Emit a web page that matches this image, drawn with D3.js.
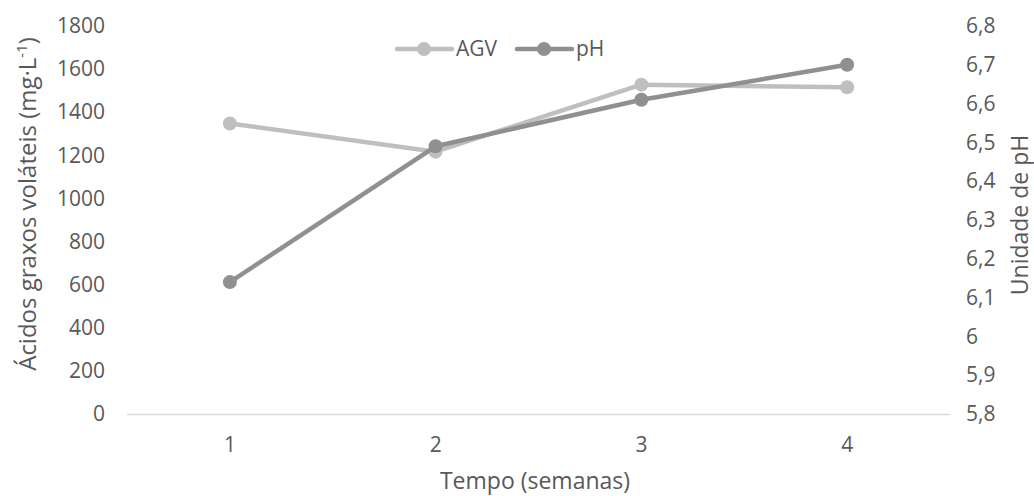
<!DOCTYPE html>
<html>
<head>
<meta charset="utf-8">
<script src="https://cdn.jsdelivr.net/npm/d3@7"></script>
<style>
  html, body { margin: 0; padding: 0; background: #fff; }
  svg { display: block; font-family: "Open Sans", sans-serif; }
  svg text { font-family: "Open Sans", sans-serif; }
</style>
</head>
<body>
<svg id="chart" width="1034" height="496"></svg>
<script>
// Semanas de monitoramento
const weeks = ["1", "2", "3", "4"];
// Ácidos graxos voláteis (mg/L)
const agvValues = [1348, 1217, 1528, 1516];
// pH
const phValues = [6.14, 6.49, 6.61, 6.70];
// Marcas dos eixos
const leftTicks = [0, 200, 400, 600, 800, 1000, 1200, 1400, 1600, 1800];
const rightTicks = [5.8, 5.9, 6.0, 6.1, 6.2, 6.3, 6.4, 6.5, 6.6, 6.7, 6.8];

const svg = d3.select("#chart");
const textColor = "#595959";
const agvColor = "#bfbfbf";
const phColor = "#909090";
const tickSize = "21px";
const titleSize = "23px";

const plot = { left: 127, right: 950, top: 26, bottom: 414 };

const x = d3.scaleBand().domain(weeks).range([plot.left, plot.right]);
const yL = d3.scaleLinear().domain([0, 1800]).range([plot.bottom, plot.top]);
const yR = d3.scaleLinear().domain([5.8, 6.8]).range([plot.bottom, plot.top]);
const cx = d => x(d) + x.bandwidth() / 2;

function styleAxis(g) {
  g.attr("font-family", null).attr("font-size", null);
  g.select(".domain").remove();
  g.selectAll("text").attr("fill", textColor).style("font-size", tickSize);
}

// Eixo esquerdo
svg.append("g")
  .attr("transform", "translate(105,0)")
  .call(d3.axisLeft(yL).tickValues(leftTicks).tickSize(0).tickPadding(0).tickFormat(d3.format("d")))
  .call(styleAxis);

// Eixo direito
const fmtPh = d => (Math.round(d * 10) / 10).toString().replace(".", ",");
svg.append("g")
  .attr("transform", "translate(966,0)")
  .call(d3.axisRight(yR).tickValues(rightTicks).tickSize(0).tickPadding(0).tickFormat(fmtPh))
  .call(styleAxis);

// Eixo de categorias
svg.append("line")
  .attr("x1", plot.left).attr("x2", plot.right)
  .attr("y1", plot.bottom + 0.5).attr("y2", plot.bottom + 0.5)
  .attr("stroke", "#d9d9d9").attr("stroke-width", 1.5);

svg.append("g")
  .attr("transform", `translate(0,${plot.bottom})`)
  .call(d3.axisBottom(x).tickSize(0).tickPadding(23))
  .call(styleAxis);

// Títulos dos eixos
svg.append("text")
  .attr("x", 535).attr("y", 489)
  .attr("text-anchor", "middle").attr("fill", textColor)
  .style("font-size", titleSize).text("Tempo (semanas)");

const leftTitle = svg.append("text")
  .attr("transform", "translate(36,204) rotate(-90)")
  .attr("text-anchor", "middle").attr("fill", textColor)
  .style("font-size", "24px");
leftTitle.append("tspan").text("Ácidos graxos voláteis (mg·L");
leftTitle.append("tspan").attr("dy", -9).style("font-size", "15px").text("-1");
leftTitle.append("tspan").attr("dy", 9).text(")");

svg.append("text")
  .attr("transform", "translate(1028,215) rotate(-90)")
  .attr("text-anchor", "middle").attr("fill", textColor)
  .style("font-size", titleSize).text("Unidade de pH");

// Séries
const lineL = d3.line().x((d, i) => cx(weeks[i])).y(d => yL(d));
const lineR = d3.line().x((d, i) => cx(weeks[i])).y(d => yR(d));

function drawSeries(values, line, yScale, color) {
  svg.append("path").datum(values)
    .attr("d", line).attr("fill", "none")
    .attr("stroke", color).attr("stroke-width", 4.5)
    .attr("stroke-linejoin", "round").attr("stroke-linecap", "round");
  svg.append("g").selectAll("circle").data(values).join("circle")
    .attr("cx", (d, i) => cx(weeks[i])).attr("cy", d => yScale(d))
    .attr("r", 7).attr("fill", color);
}
drawSeries(agvValues, lineL, yL, agvColor);
drawSeries(phValues, lineR, yR, phColor);

// Legenda
const legendItems = [
  { name: "AGV", color: agvColor, x: 397 },
  { name: "pH", color: phColor, x: 517 }
];
const lg = svg.append("g").selectAll("g").data(legendItems).join("g")
  .attr("transform", d => `translate(${d.x},49)`);
lg.append("line").attr("x1", 0).attr("x2", 55).attr("y1", 0).attr("y2", 0)
  .attr("stroke", d => d.color).attr("stroke-width", 4.5).attr("stroke-linecap", "round");
lg.append("circle").attr("cx", 27).attr("cy", 0).attr("r", 7).attr("fill", d => d.color);
lg.append("text").attr("x", 59).attr("y", 0).attr("dy", "0.35em")
  .attr("fill", textColor).style("font-size", tickSize).text(d => d.name);
</script>
</body>
</html>
